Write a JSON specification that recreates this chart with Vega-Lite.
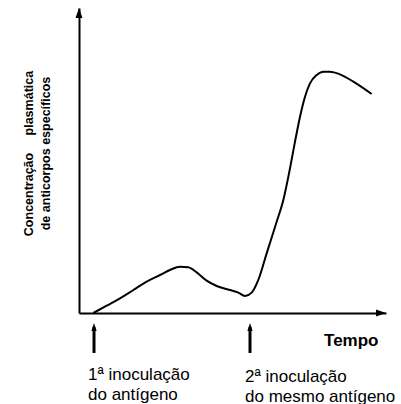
{
  "$schema": "https://vega.github.io/schema/vega-lite/v6.json",
  "width": 307,
  "height": 305,
  "autosize": {"type": "none"},
  "padding": {"left": 79, "top": 8, "right": 15, "bottom": 91},
  "background": "white",
  "config": {"view": {"stroke": null}, "font": "Liberation Sans"},
  "datasets": {
    "curve": [
      {"t": 4.67, "c": 0},
      {"t": 9.01, "c": 2.4},
      {"t": 13.36, "c": 4.81},
      {"t": 17.7, "c": 7.54},
      {"t": 22.04, "c": 10.27},
      {"t": 26.38, "c": 12.46},
      {"t": 29.64, "c": 14.1},
      {"t": 32.9, "c": 15.19},
      {"t": 35.61, "c": 14.97},
      {"t": 38.33, "c": 13.33},
      {"t": 41.59, "c": 10.6},
      {"t": 44.84, "c": 8.85},
      {"t": 49.19, "c": 7.54},
      {"t": 51.9, "c": 6.67},
      {"t": 54.07, "c": 5.57},
      {"t": 56.24, "c": 6.67},
      {"t": 58.41, "c": 10.82},
      {"t": 61.13, "c": 19.56},
      {"t": 64.39, "c": 29.94},
      {"t": 66.56, "c": 37.05},
      {"t": 68.73, "c": 47.43},
      {"t": 70.36, "c": 56.17},
      {"t": 71.99, "c": 64.37},
      {"t": 73.62, "c": 70.93},
      {"t": 75.24, "c": 75.3},
      {"t": 77.42, "c": 78.03},
      {"t": 79.59, "c": 79.12},
      {"t": 81.76, "c": 79.12},
      {"t": 85.02, "c": 78.25},
      {"t": 89.36, "c": 75.85},
      {"t": 95.33, "c": 71.8}
    ],
    "inoculations": [
      {"t": 4.89, "top": -4.6, "bottom": -13.1, "label": "1ª inoculação\ndo antígeno", "lx": 2.93, "ly": -21.97},
      {"t": 55.7, "top": -4.6, "bottom": -13.1, "label": "2ª inoculação\ndo mesmo antígeno", "lx": 54.07, "ly": -22.62}
    ]
  },
  "layer": [
    {
      "data": {"name": "curve"},
      "mark": {"type": "line", "interpolate": "monotone", "color": "black", "strokeWidth": 2},
      "encoding": {
        "x": {
          "field": "t", "type": "quantitative",
          "scale": {"domain": [0, 100], "nice": false, "zero": false},
          "axis": {
            "title": "Tempo", "ticks": false, "labels": false, "grid": false,
            "domainColor": "black", "domainWidth": 2,
            "titleFont": "Liberation Sans", "titleFontSize": 17, "titleFontWeight": "bold", "titleColor": "black",
            "titleX": 299, "titleY": 32, "titleAlign": "right", "titleBaseline": "alphabetic"
          }
        },
        "y": {
          "field": "c", "type": "quantitative",
          "scale": {"domain": [0, 100], "nice": false, "zero": false},
          "axis": {
            "title": ["Concentração\u00a0\u00a0\u00a0\u00a0\u00a0plasmática", "de anticorpos específicos"],
            "ticks": false, "labels": false, "grid": false,
            "domainColor": "black", "domainWidth": 2,
            "titleFont": "Liberation Sans", "titleFontSize": 12.5, "titleFontWeight": "bold", "titleColor": "black",
            "titleLineHeight": 17, "titleAngle": -90, "titleAlign": "center", "titleBaseline": "middle",
            "titleX": -51, "titleY": 145
          }
        }
      }
    },
    {
      "data": {"values": [{"t": 0, "c": 98.36}]},
      "mark": {"type": "point", "shape": "M0,-1L0.7,1L-0.7,1Z", "filled": true, "size": 100, "color": "black", "opacity": 1},
      "encoding": {
        "x": {"field": "t", "type": "quantitative"},
        "y": {"field": "c", "type": "quantitative"}
      }
    },
    {
      "data": {"values": [{"t": 98.37, "c": 0}]},
      "mark": {"type": "point", "shape": "M1,0L-1,0.7L-1,-0.7Z", "filled": true, "size": 100, "color": "black", "opacity": 1},
      "encoding": {
        "x": {"field": "t", "type": "quantitative"},
        "y": {"field": "c", "type": "quantitative"}
      }
    },
    {
      "data": {"name": "inoculations"},
      "mark": {"type": "rule", "color": "black", "strokeWidth": 3},
      "encoding": {
        "x": {"field": "t", "type": "quantitative"},
        "y": {"field": "top", "type": "quantitative"},
        "y2": {"field": "bottom"}
      }
    },
    {
      "data": {"name": "inoculations"},
      "mark": {"type": "point", "shape": "M0,-1L0.65,1L-0.65,1Z", "filled": true, "size": 64, "color": "black", "opacity": 1},
      "encoding": {
        "x": {"field": "t", "type": "quantitative"},
        "y": {"field": "top", "type": "quantitative"}
      }
    },
    {
      "data": {"name": "inoculations"},
      "mark": {"type": "text", "align": "left", "baseline": "alphabetic", "fontSize": 17, "lineHeight": 20, "lineBreak": "\n", "color": "black", "font": "Liberation Sans"},
      "encoding": {
        "x": {"field": "lx", "type": "quantitative"},
        "y": {"field": "ly", "type": "quantitative"},
        "text": {"field": "label", "type": "nominal"}
      }
    }
  ]
}
